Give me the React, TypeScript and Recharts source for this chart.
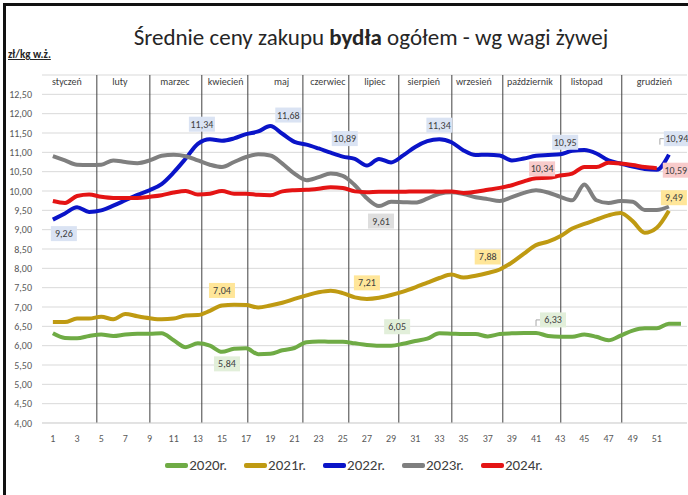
import React from 'react';
import { LineChart, Line, XAxis, YAxis, CartesianGrid, ReferenceLine } from 'recharts';

const weeks: number[] = Array.from({ length: 53 }, (_, i) => i + 1);

const y2020 = [6.32, 6.2, 6.19, 6.25, 6.29, 6.25, 6.29, 6.31, 6.31, 6.32, 6.14, 5.96, 6.06, 6.0, 5.84, 5.92, 5.93, 5.78, 5.79, 5.88, 5.94, 6.09, 6.11, 6.1, 6.1, 6.06, 6.02, 6.0, 6.0, 6.05, 6.12, 6.18, 6.32, 6.31, 6.3, 6.3, 6.24, 6.3, 6.32, 6.33, 6.33, 6.25, 6.23, 6.23, 6.29, 6.23, 6.14, 6.26, 6.39, 6.45, 6.45, 6.57, 6.57];
const y2021 = [6.61, 6.61, 6.7, 6.7, 6.75, 6.68, 6.82, 6.76, 6.71, 6.68, 6.7, 6.78, 6.79, 6.9, 7.04, 7.06, 7.05, 6.99, 7.04, 7.11, 7.21, 7.3, 7.38, 7.42, 7.36, 7.25, 7.21, 7.24, 7.31, 7.4, 7.51, 7.63, 7.75, 7.84, 7.76, 7.81, 7.88, 7.97, 8.15, 8.38, 8.6, 8.69, 8.83, 9.03, 9.15, 9.26, 9.37, 9.43, 9.22, 8.92, 9.05, 9.49];
const y2022 = [9.26, 9.42, 9.58, 9.46, 9.5, 9.62, 9.76, 9.9, 10.02, 10.18, 10.48, 10.84, 11.22, 11.34, 11.3, 11.36, 11.47, 11.54, 11.68, 11.48, 11.27, 11.2, 11.1, 10.99, 10.89, 10.83, 10.66, 10.83, 10.74, 10.92, 11.14, 11.29, 11.34, 11.26, 11.05, 10.93, 10.94, 10.92, 10.79, 10.84, 10.91, 10.93, 10.95, 11.04, 11.06, 10.97, 10.79, 10.71, 10.63, 10.57, 10.55, 10.94];
const y2023 = [10.9, 10.79, 10.68, 10.67, 10.68, 10.79, 10.75, 10.72, 10.79, 10.91, 10.94, 10.9, 10.79, 10.68, 10.62, 10.75, 10.88, 10.95, 10.92, 10.71, 10.45, 10.28, 10.36, 10.45, 10.39, 10.15, 9.81, 9.61, 9.72, 9.71, 9.7, 9.8, 9.93, 9.97, 9.92, 9.84, 9.79, 9.74, 9.84, 9.95, 10.02, 9.96, 9.85, 9.76, 10.17, 9.76, 9.69, 9.74, 9.72, 9.51, 9.51, 9.6];
const y2024 = [9.74, 9.69, 9.87, 9.91, 9.85, 9.82, 9.82, 9.82, 9.85, 9.89, 9.96, 10.0, 9.91, 9.93, 10.0, 9.93, 9.93, 9.9, 9.89, 9.99, 10.02, 10.03, 10.06, 10.1, 10.08, 9.99, 9.97, 9.98, 9.98, 9.98, 9.99, 9.99, 9.98, 9.99, 9.95, 9.98, 10.03, 10.08, 10.15, 10.25, 10.33, 10.34, 10.4, 10.45, 10.62, 10.62, 10.73, 10.71, 10.67, 10.62, 10.59];

const yTicks = [4, 4.5, 5, 5.5, 6, 6.5, 7, 7.5, 8, 8.5, 9, 9.5, 10, 10.5, 11, 11.5, 12, 12.5];
const xTicks = weeks.filter((w) => w % 2 === 1 && w < 53);

const months = ['styczeń', 'luty', 'marzec', 'kwiecień', 'maj', 'czerwiec', 'lipiec', 'sierpień', 'wrzesień', 'październik', 'listopad', 'grudzień'];
const monthCenters = [2.16, 6.55, 11.1, 15.3, 19.93, 23.77, 27.66, 31.7, 35.85, 40.5, 45.2, 50.8];
const monthBounds = [4.64, 9.03, 13.33, 17.14, 21.7, 25.5, 29.64, 34.03, 38.25, 43.05, 48.1];

const series = [
  { key: 'y2020', name: '2020r.', color: '#6fab45', bg: '#e2efda', values: y2020 },
  { key: 'y2021', name: '2021r.', color: '#bf9a12', bg: '#ffe699', values: y2021 },
  { key: 'y2022', name: '2022r.', color: '#0a14c8', bg: '#dae3f3', values: y2022 },
  { key: 'y2023', name: '2023r.', color: '#7f7f7f', bg: '#dedede', values: y2023 },
  { key: 'y2024', name: '2024r.', color: '#e41414', bg: '#f8cbcb', values: y2024 },
];

// which weeks get a value box, and where the box sits relative to the point
const labelSpots: Record<string, { week: number; dx: number; dy: number; leader?: boolean }[]> = {
  y2020: [
    { week: 15, dx: 5, dy: 12 },
    { week: 30, dx: -6, dy: -17 },
    { week: 41, dx: 17, dy: -13, leader: true },
  ],
  y2021: [
    { week: 15, dx: 0, dy: -15 },
    { week: 27, dx: 0, dy: -16 },
    { week: 37, dx: 0, dy: -16 },
    { week: 52, dx: 5, dy: -13 },
  ],
  y2022: [
    { week: 1, dx: 11, dy: 14 },
    { week: 14, dx: -8, dy: -15 },
    { week: 19, dx: 18, dy: -11 },
    { week: 25, dx: 2, dy: -18 },
    { week: 33, dx: 0, dy: -14 },
    { week: 43, dx: 5, dy: -12 },
    { week: 52, dx: 8, dy: -16, leader: true },
  ],
  y2023: [{ week: 28, dx: 2, dy: 15 }],
  y2024: [
    { week: 42, dx: -6, dy: -9 },
    { week: 51, dx: 19, dy: 2 },
  ],
};

const data = weeks.map((w, i) => {
  const row: Record<string, number | null> = { week: w };
  series.forEach((s) => {
    row[s.key] = i < s.values.length ? s.values[i] : null;
  });
  return row;
});

const fmt = (v: number) => v.toFixed(2).replace('.', ',');

const FONT = 'Carlito, "Liberation Sans Narrow", "Liberation Sans", Arial, sans-serif';

const makeLabel = (key: string, bg: string) => (props: any) => {
  const { x, y, index, value } = props;
  const spot = labelSpots[key].find((s) => s.week === index + 1);
  if (!spot || value == null) return null;
  const cx = x + spot.dx;
  const cy = y + spot.dy;
  const w = 26;
  const h = 15;
  return (
    <g key={`${key}-${index}`}>
      {spot.leader && (
        <polyline
          points={`${cx - w / 2},${cy} ${cx - w / 2 - 4},${cy} ${cx - w / 2 - 4},${cy + 6}`}
          fill="none"
          stroke="#a6a6a6"
          strokeWidth={1}
        />
      )}
      <rect x={cx - w / 2} y={cy - h / 2} width={w} height={h} fill={bg} />
      <text x={cx} y={cy + 3.5} textAnchor="middle" fontSize={10} fill="#404040" fontFamily={FONT}>
        {fmt(value)}
      </text>
    </g>
  );
};

const App: React.FC = () => {
  return (
    <div style={{ position: 'absolute', left: 0, top: 0, width: 688, height: 495, background: '#fff', fontFamily: FONT }}>
      <div style={{ position: 'absolute', left: 3, top: 3, width: 700, height: 500, borderLeft: '3px solid #111', borderTop: '3px solid #111' }} />
      <div style={{ position: 'absolute', left: 0, width: 742, top: 23, textAlign: 'center', fontSize: 23, color: '#262626', whiteSpace: 'nowrap' }}>
        Średnie ceny zakupu <b>bydła</b> ogółem - wg wagi żywej
      </div>
      <div style={{ position: 'absolute', left: 8, top: 48, fontSize: 11, fontWeight: 'bold', textDecoration: 'underline', color: '#262626' }}>
        zł/kg w.ż.
      </div>
      <div style={{ position: 'absolute', left: 0, top: 0 }}>
        <LineChart width={688} height={495} data={data} margin={{ top: 75, right: 1, left: 0, bottom: 42 }}>
          <CartesianGrid vertical={false} stroke="#d9d9d9" />
          <XAxis
            dataKey="week"
            type="number"
            domain={[0.1, 53.5]}
            ticks={xTicks}
            interval={0}
            allowDataOverflow
            tickLine={false}
            axisLine={{ stroke: '#d9d9d9' }}
            height={30}
            tickMargin={6}
            tick={{ fontSize: 10, fill: '#595959', fontFamily: FONT }}
          />
          <YAxis
            type="number"
            domain={[4, 13]}
            ticks={yTicks}
            interval={0}
            allowDataOverflow
            width={42}
            tickLine={false}
            axisLine={false}
            tickMargin={4}
            tickFormatter={fmt}
            tick={{ fontSize: 10, fill: '#595959', fontFamily: FONT }}
          />
          {monthBounds.map((b) => (
            <ReferenceLine key={`b${b}`} x={b} stroke="#404040" strokeWidth={1} />
          ))}
          {months.map((m, i) => (
            <ReferenceLine
              key={m}
              x={monthCenters[i]}
              stroke="none"
              label={{ value: m, position: 'insideTop', offset: 3, fontSize: 10, fill: '#404040', fontFamily: FONT }}
            />
          ))}
          {series.map((s) => (
            <Line
              key={s.key}
              type="monotone"
              dataKey={s.key}
              name={s.name}
              stroke={s.color}
              strokeWidth={4}
              dot={false}
              activeDot={false}
              connectNulls={false}
              isAnimationActive={false}
              label={makeLabel(s.key, s.bg)}
            />
          ))}
        </LineChart>
      </div>
      <div style={{ position: 'absolute', top: 456, left: 0, width: 708, display: 'flex', justifyContent: 'center', gap: 17, fontSize: 15, color: '#404040' }}>
        {series.map((s) => (
          <div key={s.key} style={{ display: 'flex', alignItems: 'center' }}>
            <span style={{ display: 'inline-block', width: 23, height: 5, background: s.color, borderRadius: 2, marginRight: 1 }} />
            <span>{s.name}</span>
          </div>
        ))}
      </div>
    </div>
  );
};

export default App;
